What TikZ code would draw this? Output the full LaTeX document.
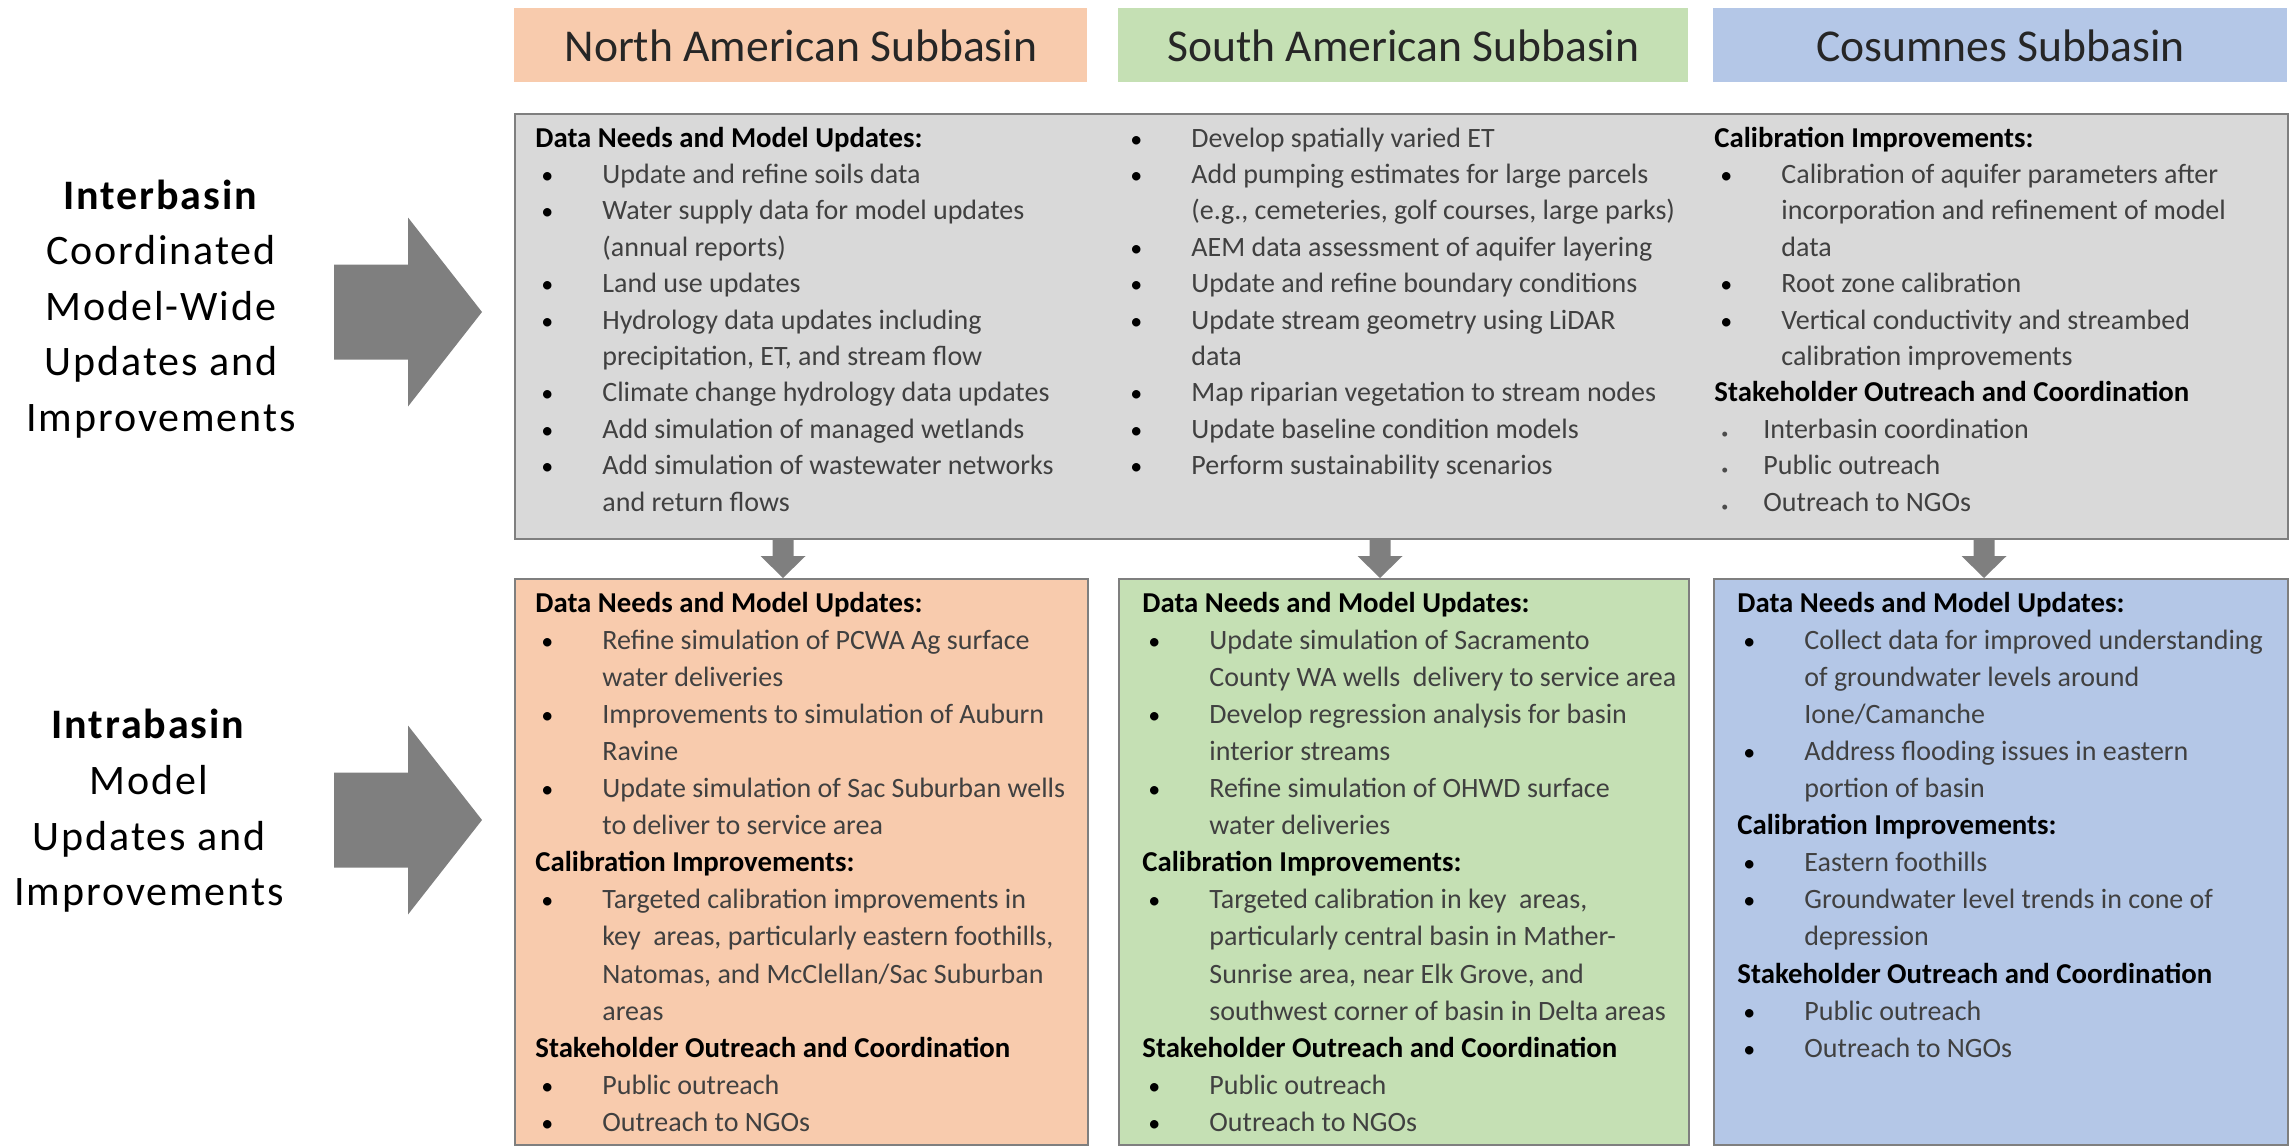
\documentclass[tikz,border=0pt]{standalone}
\usepackage{fontspec}
\setmainfont{Carlito}
\newfontfamily\sidefont{Carlito}[LetterSpace=4.5]

\definecolor{orangefill}{HTML}{F8CBAD}
\definecolor{greenfill}{HTML}{C5E0B4}
\definecolor{bluefill}{HTML}{B4C7E7}
\definecolor{grayfill}{HTML}{D9D9D9}
\definecolor{edgegray}{HTML}{7F7F7F}
\definecolor{itemtext}{HTML}{404040}
\definecolor{headtext}{HTML}{262626}

% list helpers
\newcommand{\hd}[1]{\multicolumn{2}{@{}l@{}}{\fontsize{14.4}{14.4}\selectfont\textbf{\color{black}#1}}}
\newcommand{\bul}{\makebox[33.5pt][l]{\hspace{3pt}{\fontsize{12}{12}\selectfont\color{black}\textbullet}}}
\newcommand{\sitm}[1]{\multicolumn{2}{@{}l@{}}{\makebox[24.5pt][l]{\hspace{3.5pt}{\fontsize{7}{7}\selectfont\color{black!70}\textbullet}}#1}}

\tikzset{
  panel/.style={draw=edgegray, line width=1.2pt, anchor=north west, inner sep=0pt},
  banner/.style={fill=#1, anchor=north west, inner sep=0pt, minimum height=37pt,
    text=headtext, font=\fontsize{22.8}{27}\selectfont},
  textcol/.style={anchor=base west, inner sep=0pt, text=itemtext, font=\fontsize{14}{#1}\selectfont},
  textcol/.default=18.2,
  sidelabel/.style={align=center, inner sep=0pt, font=\sidefont\fontsize{21}{27.8}\selectfont},
  blockfill/.style={fill=edgegray}
}

\begin{document}
\begin{tikzpicture}[x=0.5pt, y=-0.5pt]
  \useasboundingbox (0,0) rectangle (2292,1146);

  % column banners
  \node [banner=orangefill, minimum width=286.5pt] (nasHead) at (514,8) {North American Subbasin};
  \node [banner=greenfill, minimum width=285pt] (sasHead) at (1118,8) {South American Subbasin};
  \node [banner=bluefill, minimum width=287pt] (cosHead) at (1713,8) {Cosumnes Subbasin};

  % boxes
  \node [panel, fill=grayfill, minimum width=886.5pt, minimum height=212.5pt] (interBox) at (514,113) {};
  \node [panel, fill=orangefill, minimum width=286.5pt, minimum height=283pt] (nasBox) at (514,578) {};
  \node [panel, fill=greenfill, minimum width=285pt, minimum height=283pt] (sasBox) at (1118,578) {};
  \node [panel, fill=bluefill, minimum width=287pt, minimum height=283pt] (cosBox) at (1713,578) {};

  % side labels
  \node [sidelabel] (interLabel) at (161,309) {\textbf{Interbasin}\\Coordinated\\Model-Wide\\Updates and\\Improvements};
  \node [sidelabel] (intraLabel) at (149,811) {\textbf{Intrabasin}\\Model\\Updates and\\Improvements};

  \foreach \ay in {312,820}
  \fill [blockfill] (334,\ay-47.5) -- (408,\ay-47.5) -- (408,\ay-94.5) -- (482,\ay)
    -- (408,\ay+94.5) -- (408,\ay+47.5) -- (334,\ay+47.5) -- cycle;

  \foreach \ax in {783,1380,1984}
  \fill [blockfill] (\ax-10.5,538) -- (\ax+10.5,538) -- (\ax+10.5,556) -- (\ax+22.5,556)
    -- (\ax,578) -- (\ax-22.5,556) -- (\ax-10.5,556) -- cycle;

  % interbasin text
  \node [textcol] (interColA) at (535,147) {\begin{tabular}[t]{@{}l@{}l@{}}
    \hd{Data Needs and Model Updates:}\\
    \bul & Update and refine soils data\\
    \bul & Water supply data for model updates\\
         & (annual reports)\\
    \bul & Land use updates\\
    \bul & Hydrology data updates including\\
         & precipitation, ET, and stream flow\\
    \bul & Climate change hydrology data updates\\
    \bul & Add simulation of managed wetlands\\
    \bul & Add simulation of wastewater networks\\
         & and return flows
  \end{tabular}};

  \node [textcol] (interColB) at (1124,147) {\begin{tabular}[t]{@{}l@{}l@{}}
    \bul & Develop spatially varied ET\\
    \bul & Add pumping estimates for large parcels\\
         & (e.g., cemeteries, golf courses, large parks)\\
    \bul & AEM data assessment of aquifer layering\\
    \bul & Update and refine boundary conditions\\
    \bul & Update stream geometry using LiDAR\\
         & data\\
    \bul & Map riparian vegetation to stream nodes\\
    \bul & Update baseline condition models\\
    \bul & Perform sustainability scenarios
  \end{tabular}};

  \node [textcol] (interColC) at (1714,147) {\begin{tabular}[t]{@{}l@{}l@{}}
    \hd{Calibration Improvements:}\\
    \bul & Calibration of aquifer parameters after\\
         & incorporation and refinement of model\\
         & data\\
    \bul & Root zone calibration\\
    \bul & Vertical conductivity and streambed\\
         & calibration improvements\\
    \hd{Stakeholder Outreach and Coordination}\\
    \sitm{Interbasin coordination}\\
    \sitm{Public outreach}\\
    \sitm{Outreach to NGOs}
  \end{tabular}};

  % intrabasin text
  \node [textcol=18.55] (nasText) at (535,612) {\begin{tabular}[t]{@{}l@{}l@{}}
    \hd{Data Needs and Model Updates:}\\
    \bul & Refine simulation of PCWA Ag surface\\
         & water deliveries\\
    \bul & Improvements to simulation of Auburn\\
         & Ravine\\
    \bul & Update simulation of Sac Suburban wells\\
         & to deliver to service area\\
    \hd{Calibration Improvements:}\\
    \bul & Targeted calibration improvements in\\
         & key \ areas, particularly eastern foothills,\\
         & Natomas, and McClellan/Sac Suburban\\
         & areas\\
    \hd{Stakeholder Outreach and Coordination}\\
    \bul & Public outreach\\
    \bul & Outreach to NGOs
  \end{tabular}};

  \node [textcol=18.55] (sasText) at (1142,612) {\begin{tabular}[t]{@{}l@{}l@{}}
    \hd{Data Needs and Model Updates:}\\
    \bul & Update simulation of Sacramento\\
         & County WA wells \ delivery to service area\\
    \bul & Develop regression analysis for basin\\
         & interior streams\\
    \bul & Refine simulation of OHWD surface\\
         & water deliveries\\
    \hd{Calibration Improvements:}\\
    \bul & Targeted calibration in key \ areas,\\
         & particularly central basin in Mather-\\
         & Sunrise area, near Elk Grove, and\\
         & southwest corner of basin in Delta areas\\
    \hd{Stakeholder Outreach and Coordination}\\
    \bul & Public outreach\\
    \bul & Outreach to NGOs
  \end{tabular}};

  \node [textcol=18.55] (cosText) at (1737,612) {\begin{tabular}[t]{@{}l@{}l@{}}
    \hd{Data Needs and Model Updates:}\\
    \bul & Collect data for improved understanding\\
         & of groundwater levels around\\
         & Ione/Camanche\\
    \bul & Address flooding issues in eastern\\
         & portion of basin\\
    \hd{Calibration Improvements:}\\
    \bul & Eastern foothills\\
    \bul & Groundwater level trends in cone of\\
         & depression\\
    \hd{Stakeholder Outreach and Coordination}\\
    \bul & Public outreach\\
    \bul & Outreach to NGOs
  \end{tabular}};
\end{tikzpicture}
\end{document}
